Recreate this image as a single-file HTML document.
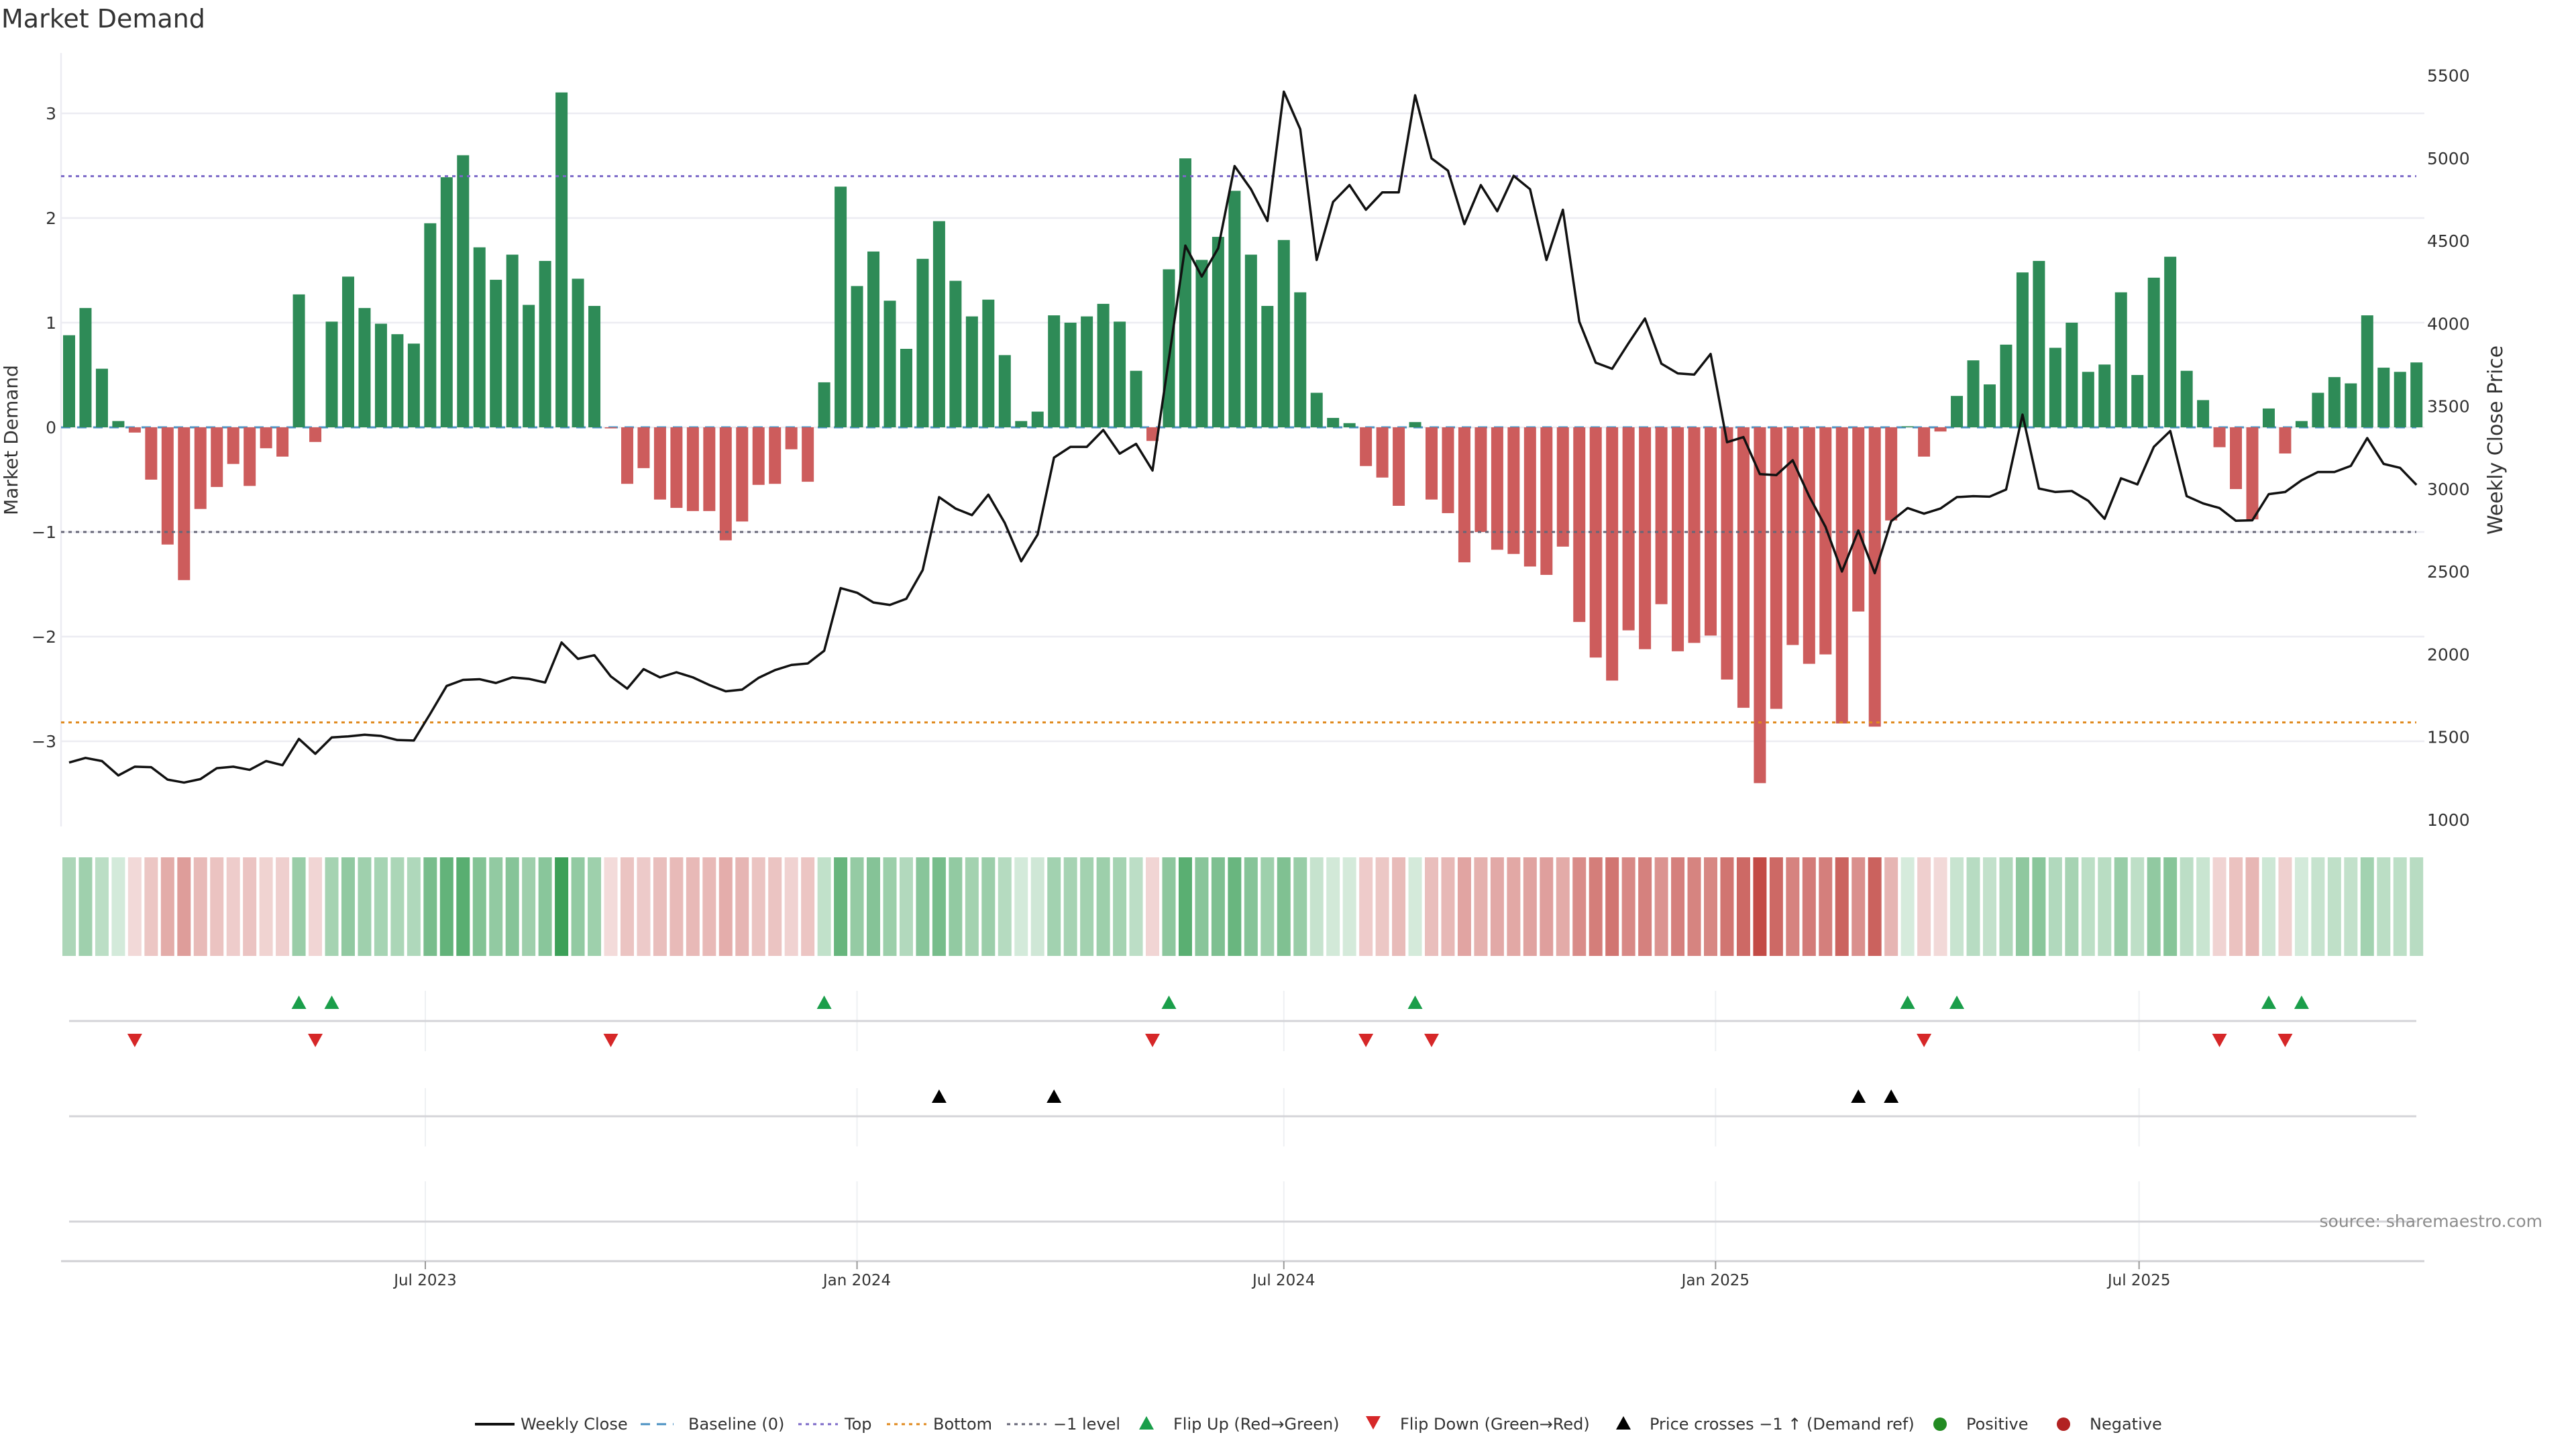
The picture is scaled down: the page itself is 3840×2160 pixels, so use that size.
<!DOCTYPE html>
<html><head><meta charset="utf-8"><title>Market Demand</title>
<style>
html,body{margin:0;padding:0;background:#fff;}
svg{display:block;font-family:"DejaVu Sans","Liberation Sans",sans-serif;}
</style></head>
<body>
<svg id="chart" width="3840" height="2160" viewBox="0 0 3840 2160" xmlns="http://www.w3.org/2000/svg">
<rect width="3840" height="2160" fill="#fff"/>
<text x="2" y="41" font-size="38" fill="#333">Market Demand</text>
<g id="main"></g>
<g id="heat"></g>
<g id="sig"></g>
<g id="xaxis"></g>
<text x="3790" y="1829" font-size="25" fill="#8c8c8c" text-anchor="end">source: sharemaestro.com</text>
<g id="legend"></g>
</svg>
<script>
const demand = [0.88,1.14,0.56,0.06,-0.05,-0.50,-1.12,-1.46,-0.78,-0.57,
-0.35,-0.56,-0.20,-0.28,1.27,-0.14,1.01,1.44,1.14,0.99,
0.89,0.80,1.95,2.39,2.60,1.72,1.41,1.65,1.17,1.59,
3.20,1.42,1.16,-0.01,-0.54,-0.39,-0.69,-0.77,-0.80,-0.80,
-1.08,-0.90,-0.55,-0.54,-0.21,-0.52,0.43,2.30,1.35,1.68,
1.21,0.75,1.61,1.97,1.40,1.06,1.22,0.69,0.06,0.15,
1.07,1.00,1.06,1.18,1.01,0.54,-0.13,1.51,2.57,1.60,
1.82,2.26,1.65,1.16,1.79,1.29,0.33,0.09,0.04,-0.37,
-0.48,-0.75,0.05,-0.69,-0.82,-1.29,-1.00,-1.17,-1.21,-1.33,
-1.41,-1.14,-1.86,-2.20,-2.42,-1.94,-2.12,-1.69,-2.14,-2.06,
-1.99,-2.41,-2.68,-3.40,-2.69,-2.08,-2.26,-2.17,-2.83,-1.76,
-2.86,-0.89,0.01,-0.28,-0.04,0.30,0.64,0.41,0.79,1.48,
1.59,0.76,1.00,0.53,0.60,1.29,0.50,1.43,1.63,0.54,
0.26,-0.19,-0.59,-0.88,0.18,-0.25,0.06,0.33,0.48,0.42,
1.07,0.57,0.53,0.62];
const closePrice = [1346,1374,1355,1268,1321,1318,1243,1225,1246,1312,
1321,1302,1355,1330,1489,1399,1498,1504,1514,1507,
1482,1479,1641,1809,1846,1850,1827,1861,1852,1830,
2072,1973,1995,1867,1793,1911,1861,1892,1861,1815,
1777,1787,1858,1905,1936,1945,2022,2401,2373,2314,
2299,2336,2510,2951,2882,2842,2966,2795,2563,2724,
3190,3255,3255,3357,3214,3273,3112,3789,4472,4285,
4456,4953,4813,4621,5403,5176,4385,4736,4838,4689,
4794,4794,5381,4999,4925,4602,4838,4680,4894,4813,
4385,4689,4012,3764,3727,3882,4031,3758,3699,3692,
3817,3283,3314,3090,3084,3174,2957,2771,2501,2749,
2491,2805,2885,2851,2882,2951,2957,2954,2997,3450,
3003,2982,2988,2929,2820,3065,3028,3255,3351,2957,
2913,2885,2808,2811,2969,2982,3053,3103,3103,3140,
3308,3152,3128,3025];
const leftTicks = [-3,-2,-1,0,1,2,3];
const rightTicks = [1000,1500,2000,2500,3000,3500,4000,4500,5000,5500];
const levels = {top:2.4, bottom:-2.82, minus1:-1};
const dateTickLabels = ["Jul 2023","Jan 2024","Jul 2024","Jan 2025","Jul 2025"];
const dateTickWeeks = [21.7,48.0,74.0,100.3,126.1];

const NS="http://www.w3.org/2000/svg";
function mk(parent,tag,attrs){const e=document.createElementNS(NS,tag);for(const k in attrs)e.setAttribute(k,attrs[k]);parent.appendChild(e);return e;}
const X0=91,X1=3614,B0=103,BS=24.47,BW=18;
function xs(i){return B0+BS*i;}
function yl(v){return 637-156*v;}
function yr(p){return 1222-(p-1000)*0.24651;}
function pr(y){return 1000+(1222-y)/0.24651;}

const main=document.getElementById('main');
// grid
leftTicks.forEach(t=>{
  const g=mk(main,'line',{x1:X0,x2:X1,y1:yl(t),y2:yl(t),stroke:'#ececf2','stroke-width':2.5});
  
  
  const tx=mk(main,'text',{x:84,y:yl(t)+9,'font-size':25,fill:'#333','text-anchor':'end'});
  
  
  tx.textContent=(t<0?'\u2212'+Math.abs(t):String(t));
});
rightTicks.forEach(t=>{
  const tx=mk(main,'text',{x:3618,y:yr(t)+9,'font-size':25,fill:'#333'});
  
  
  tx.textContent=String(t);
});
const ax=mk(main,'line',{x1:X0,x2:X0,y1:79,y2:1232,stroke:'#ececf2','stroke-width':2.5});


const lt=mk(main,'text',{x:0,y:0,'font-size':28,fill:'#333','text-anchor':'middle',transform:'translate(26,656) rotate(-90)'});


lt.textContent='Market Demand';
const rt=mk(main,'text',{x:0,y:0,'font-size':30,fill:'#333','text-anchor':'middle',transform:'translate(3730,656) rotate(-90)'});


rt.textContent='Weekly Close Price';
// baseline
const bl=mk(main,'line',{x1:X0,x2:3602,y1:yl(0),y2:yl(0),stroke:'#4a90c2','stroke-width':3,'stroke-dasharray':'14 10'});


// bars
demand.forEach((v,i)=>{
  const y=Math.min(yl(0),yl(v)),h=Math.max(1,Math.abs(yl(v)-yl(0)));
  const r=mk(main,'rect',{x:xs(i)-BW/2,y:y,width:BW,height:h,fill:v>=0?'#2e8b57':'#cd5c5c'});
  
  
});
// level lines
[['top','#7b68c8'],['minus1','#666677'],['bottom','#e08a1e']].forEach(([k,c])=>{
  const l=mk(main,'line',{x1:X0,x2:3602,y1:yl(levels[k]),y2:yl(levels[k]),stroke:c,'stroke-width':3,'stroke-dasharray':'5 6'});
  
  
});
// price line
const pl=mk(main,'polyline',{points:closePrice.map((p,i)=>xs(i)+','+yr(p)).join(' '),fill:'none',stroke:'#111','stroke-width':3.5,'stroke-linejoin':'round'});



// heatmap
const heat=document.getElementById('heat');
function mix(c,a){return 'rgb('+c.map(v=>Math.round(255-(255-v)*a)).join(',')+')';}
demand.forEach((v,i)=>{
  const t=Math.min(1,Math.abs(v)/3.4);
  const a=0.2+0.8*t;
  const col=v>=0?mix([50,155,80],a):mix([195,75,70],a);
  const r=mk(heat,'rect',{x:xs(i)-10,y:1278,width:20,height:147,fill:col});
  
  
});

// signal panels
const sig=document.getElementById('sig');
dateTickWeeks.forEach(w=>{
  [[1477,1567],[1622,1709],[1761,1878]].forEach(([a,b])=>{
    const l=mk(sig,'line',{x1:xs(w),x2:xs(w),y1:a,y2:b,stroke:'#eef0f3','stroke-width':2});
    
    
  });
});
[1522,1664,1821].forEach(y=>{
  const l=mk(sig,'line',{x1:103,x2:3602,y1:y,y2:y,stroke:'#d4d4d8','stroke-width':3});
  
  
});
function tri(g,cx,cy,up,col,name){
  const w=11,h=10;
  const pts=up?[[cx-w,cy+h],[cx+w,cy+h],[cx,cy-h]]:[[cx-w,cy-h],[cx+w,cy-h],[cx,cy+h]];
  const p=mk(g,'polygon',{points:pts.map(q=>q.join(',')).join(' '),fill:col});
  
  
}
for(let i=1;i<demand.length;i++){
  if(demand[i-1]<0&&demand[i]>=0)tri(sig,xs(i),1494,true,'#1a9e4a','flip-up-marker');
  if(demand[i-1]>=0&&demand[i]<0)tri(sig,xs(i),1551,false,'#d62728','flip-down-marker');
}
const refPrice=pr(yl(levels.minus1));
for(let i=1;i<closePrice.length;i++){
  if(closePrice[i-1]<refPrice&&closePrice[i]>=refPrice)tri(sig,xs(i),1634,true,'#000','price-cross-marker');
}

// x axis
const xa=document.getElementById('xaxis');
const xl=mk(xa,'line',{x1:X0,x2:X1,y1:1880,y2:1880,stroke:'#d0d0d4','stroke-width':3});


dateTickWeeks.forEach((w,k)=>{
  const tk=mk(xa,'line',{x1:xs(w),x2:xs(w),y1:1880,y2:1892,stroke:'#999','stroke-width':2});
  
  
  const tx=mk(xa,'text',{x:xs(w),y:1916,'font-size':23,fill:'#333','text-anchor':'middle'});
  
  
  tx.textContent=dateTickLabels[k];
});

// legend
const lg=document.getElementById('legend');
const LY=2123;
function ltext(x,s){const t=mk(lg,'text',{x:x,y:LY+8,'font-size':24,fill:'#333'});t.textContent=s;}
function lline(x1,x2,col,dash,w){const l=mk(lg,'line',{x1:x1,x2:x2,y1:LY,y2:LY,stroke:col,'stroke-width':w});if(dash)l.setAttribute('stroke-dasharray',dash);}
lline(708,767,'#111',null,4);ltext(776,'Weekly Close');
lline(955,1004,'#4a90c2','14 10',3);ltext(1026,'Baseline (0)');
lline(1190,1249,'#7b68c8','5 6',3);ltext(1259,'Top');
lline(1322,1381,'#e08a1e','5 6',3);ltext(1391,'Bottom');
lline(1501,1560,'#666677','5 6',3);ltext(1570,'\u22121 level');
tri(lg,1709,LY-2,true,'#1a9e4a','legend-flip-up');ltext(1749,'Flip Up (Red\u2192Green)');
tri(lg,2047,LY-2,false,'#d62728','legend-flip-down');ltext(2087,'Flip Down (Green\u2192Red)');
tri(lg,2420,LY-2,true,'#000','legend-price-cross');ltext(2459,'Price crosses \u22121 \u2191 (Demand ref)');
const c1=mk(lg,'circle',{cx:2892,cy:LY,r:10,fill:'#228b22'});
ltext(2931,'Positive');
const c2=mk(lg,'circle',{cx:3076,cy:LY,r:10,fill:'#b22222'});
ltext(3115,'Negative');
</script>
</body></html>
